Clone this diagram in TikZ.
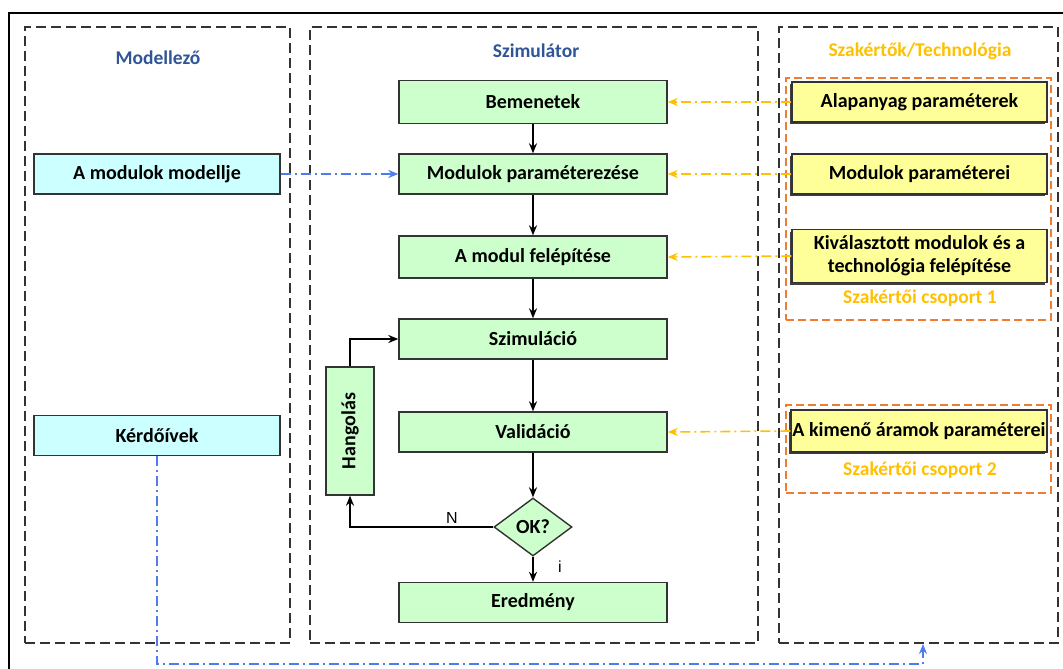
\documentclass[tikz,border=0pt]{standalone}
\usepackage{fontspec}
\setmainfont{Carlito}
\newfontfamily\labelfont{Liberation Sans}
\usetikzlibrary{arrows.meta,shapes.geometric,shadows}
\definecolor{boxgreen}{HTML}{CCFFCC}
\definecolor{boxcyan}{HTML}{CCFFFF}
\definecolor{boxyellow}{HTML}{FFFF99}
\definecolor{titleblue}{HTML}{2F5597}
\definecolor{titleorange}{HTML}{FFC000}
\definecolor{grouporange}{HTML}{ED7D31}
\definecolor{linkblue}{HTML}{4F7BF0}
\definecolor{linkyellow}{HTML}{FFC000}
\definecolor{edge}{HTML}{333333}
\tikzset{
  panel/.style={draw=edge, line width=1.8pt, dash pattern=on 10pt off 5pt, inner sep=0pt},
  group/.style={draw=grouporange, line width=1.8pt, dash pattern=on 8pt off 4pt, inner sep=0pt},
  stepbox/.style={draw=edge, line width=1.4pt, fill=boxgreen, minimum width=268pt, minimum height=40pt,
    inner sep=0pt, font=\bfseries\fontsize{20}{23}\selectfont},
  modelbox/.style={stepbox, fill=boxcyan, minimum width=246pt},
  expertbox/.style={stepbox, fill=boxyellow, minimum width=255pt, align=center,
    general shadow={fill=black!75, shadow xshift=-2pt, shadow yshift=-2pt}},
  decision/.style={diamond, draw=edge, line width=1.4pt, fill=boxgreen, minimum width=78pt,
    minimum height=58pt, aspect=1.35, inner sep=0pt, font=\bfseries\fontsize{20}{23}\selectfont},
  paneltitle/.style={font=\bfseries\fontsize{19.5}{22}\selectfont},
  flow/.style={draw=black, line width=1.6pt, -{Stealth[length=10pt,width=8pt]}},
  bluelink/.style={draw=linkblue, line width=1.6pt, dash pattern=on 10pt off 4pt on 2pt off 4pt,
    -{Stealth[length=10pt,width=8pt]}},
  yellowlink/.style={draw=linkyellow, line width=1.6pt, dash pattern=on 10pt off 4pt on 2pt off 4pt,
    -{Stealth[length=10pt,width=8pt]}},
  flowlabel/.style={font=\labelfont\fontsize{16}{18}\selectfont}
}
\begin{document}
\begin{tikzpicture}[x=1pt, y=-1pt]
\useasboundingbox (0,0) rectangle (1063,669);
% outer frame
\draw[line width=1.6pt, black] (9,13) rectangle (1080,690);

% three panels
\node[panel, minimum width=265pt, minimum height=616pt] (modp) at (157.5,335) {};
\node[panel, minimum width=448pt, minimum height=616pt] (simp) at (534,335) {};
\node[panel, minimum width=279pt, minimum height=616pt] (techp) at (918.5,335) {};

\node[paneltitle, text=titleblue] (tmod) at (158,58) {Modellező};
\node[paneltitle, text=titleblue] (tsim) at (536,51) {Szimulátor};
\node[paneltitle, text=titleorange] (ttech) at (920,51) {Szakértők/Technológia};

% expert groups
\node[group, minimum width=265pt, minimum height=242pt] (g1) at (918.5,199) {};
\node[group, minimum width=265pt, minimum height=88pt] (g2) at (918.5,449) {};
\node[paneltitle, text=titleorange] (g1l) at (920,298) {Szakértői csoport 1};
\node[paneltitle, text=titleorange] (g2l) at (920,470) {Szakértői csoport 2};

% simulator flow
\node[stepbox, minimum height=43pt] (bem) at (533,102) {Bemenetek};
\node[stepbox] (par) at (533,174) {Modulok paraméterezése};
\node[stepbox, minimum height=42pt] (fel) at (533,257) {A modul felépítése};
\node[stepbox] (szim) at (533,339) {Szimuláció};
\node[stepbox] (val) at (533,432) {Validáció};
\node[decision] (ok) at (533,527) {OK?};
\node[stepbox] (ered) at (533,602.5) {Eredmény};
\node[stepbox, minimum width=48pt, minimum height=128pt] (hang) at (350,431) {};
\node[font=\bfseries\fontsize{20}{23}\selectfont, rotate=90] (hangt) at (hang.center) {Hangolás};

\draw[flow] (bem) -- (par);
\draw[flow] (par) -- (fel);
\draw[flow] (fel) -- (szim);
\draw[flow] (szim) -- (val);
\draw[flow] (val) -- (ok);
\draw[flow] (ok) -- (ered);
\draw[flow] (ok.west) -| (hang.south);
\draw[flow] (hang.north) |- (szim.west);
\node[flowlabel] (nlab) at (452,518) {N};
\node[flowlabel] (ilab) at (560,567) {i};

% modeller boxes
\node[modelbox] (modl) at (157,174) {A modulok modellje};
\node[modelbox] (kerd) at (157,435.5) {Kérdőívek};

% expert boxes
\node[expertbox] (alap) at (919.5,102) {Alapanyag paraméterek};
\node[expertbox] (mpar) at (919.5,174) {Modulok paraméterei};
\node[expertbox, minimum height=53pt] (kiv) at (919.5,256) {Kiválasztott modulok és a\\technológia felépítése};
\node[expertbox, minimum width=256pt, minimum height=42pt] (kim) at (919,431) {A kimenő áramok paraméterei};

% information links
\draw[bluelink] (modl.east) -- (par.west);
\coordinate (qmid) at (540,664);
\coordinate (qend) at (923,644);
\draw[bluelink] (kerd.south) |- (qmid) -| (qend);
\draw[yellowlink] (alap.west) -- (bem.east);
\draw[yellowlink] (mpar.west) -- (par.east);
\draw[yellowlink] (kiv.west) -- (fel.east);
\draw[yellowlink] (kim.west) -- (val.east);
\end{tikzpicture}
\end{document}
